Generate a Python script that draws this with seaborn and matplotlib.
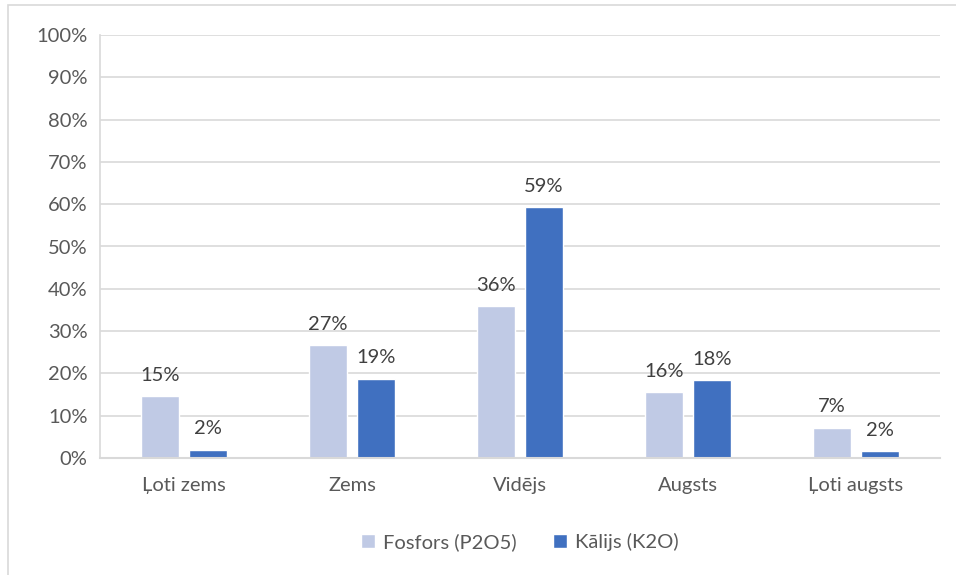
import matplotlib
matplotlib.use('Agg')
import matplotlib.pyplot as plt
import matplotlib.patches as mpatches
import pandas as pd
import seaborn as sns

# data
categories = ['Ļoti zems', 'Zems', 'Vidējs', 'Augsts', 'Ļoti augsts']
series_names = ['Fosfors (P2O5)', 'Kālijs (K2O)']
fosfors = [14.6, 26.7, 35.9, 15.6, 7.1]
kalijs = [1.9, 18.7, 59.3, 18.4, 1.6]
colors = ['#C0CAE5', '#4070C0']

df = pd.DataFrame({
    'kategorija': categories * 2,
    'sērija': [series_names[0]] * len(categories) + [series_names[1]] * len(categories),
    'vērtība': fosfors + kalijs,
})

sns.set_style('white')
plt.rcParams['font.family'] = ['Lato', 'DejaVu Sans']

fig = plt.figure(figsize=(9.56, 5.75), dpi=100)
ax = fig.add_axes([100 / 956, 117 / 575, 840 / 956, 423 / 575])

sns.barplot(data=df, x='kategorija', y='vērtība', hue='sērija',
            palette=colors, width=0.57, gap=0.21, ax=ax, saturation=1)

for cont in ax.containers:
    labels = ['{:.0f}%'.format(v) for v in cont.datavalues]
    ax.bar_label(cont, labels=labels, padding=9, fontsize=14.5, color='#404040')

ax.set_ylim(0, 100)
ax.set_yticks(range(0, 101, 10))
ax.set_yticklabels(['{}%'.format(t) for t in range(0, 101, 10)])
ax.set_xlim(-0.5, len(categories) - 0.5)
ax.grid(axis='y', color='#D9D9D9', linewidth=1.2)
ax.set_axisbelow(True)
ax.set_xlabel('')
ax.set_ylabel('')

for s in ['top', 'right']:
    ax.spines[s].set_visible(False)
ax.spines['left'].set_color('#D9D9D9')
ax.spines['bottom'].set_color('#D9D9D9')
ax.spines['left'].set_linewidth(1.2)
ax.spines['bottom'].set_linewidth(1.5)
ax.tick_params(axis='y', length=5, color='#D9D9D9', labelsize=14.5, labelcolor='#595959', pad=4)
ax.tick_params(axis='x', length=0, labelsize=14.5, labelcolor='#595959', pad=14)

ax.legend(loc='upper center', bbox_to_anchor=(0.5, -0.135), ncol=2, frameon=False,
          fontsize=14.5, labelcolor='#595959', handlelength=0.7, handleheight=0.7,
          handletextpad=0.4, columnspacing=1.8)

# outer chart border (runs off the bottom and right of the picture)
fig.patches.append(mpatches.Rectangle((8 / 956, -0.05), 1, 1.05 - 5 / 575, transform=fig.transFigure,
                                      fill=False, edgecolor='#D9D9D9', linewidth=1.2))

fig.savefig('out.png', dpi=100)
